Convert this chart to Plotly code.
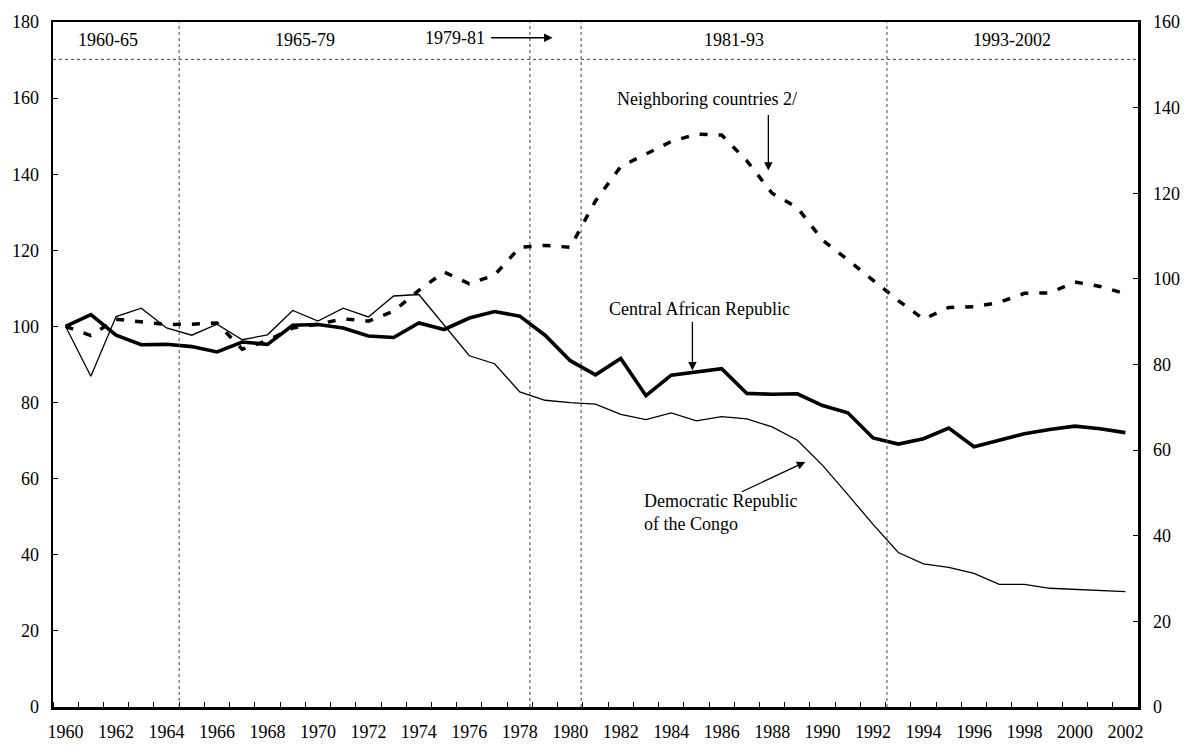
import plotly.graph_objects as go

years = list(range(1960, 2003))

car = [100, 103.1, 97.7, 95.2, 95.3, 94.7, 93.3, 95.9, 95.3, 100.3,
       100.5, 99.6, 97.5, 97.1, 100.9, 99.2, 102.2, 103.9, 102.7, 97.7,
       91.0, 87.3, 91.6, 81.8, 87.2, 88.0, 88.9, 82.4, 82.2, 82.3,
       79.2, 77.3, 70.7, 69.1, 70.5, 73.3, 68.4, 70.1, 71.8, 72.9,
       73.8, 73.1, 72.1]

drc = [100, 86.9, 102.6, 104.8, 99.6, 97.7, 100.6, 96.5, 97.8, 104.2,
       101.4, 104.8, 102.5, 108.0, 108.4, 100.3, 92.3, 90.2, 82.8, 80.6,
       80.0, 79.6, 76.9, 75.5, 77.3, 75.2, 76.3, 75.7, 73.6, 70.1,
       63.5, 55.8, 48.0, 40.6, 37.6, 36.7, 35.1, 32.2, 32.2, 31.2,
       30.9, 30.6, 30.3]

neighbors = [100, 97.6, 101.9, 101.2, 100.5, 100.6, 100.9, 94.0, 96.3, 99.6,
             100.6, 102.0, 101.4, 104.0, 109.5, 114.3, 111.2, 113.5, 120.8, 121.3,
             120.8, 133.0, 142.0, 145.3, 148.6, 150.5, 150.3, 143.5, 135.0, 131.2,
             122.7, 117.5, 112.2, 106.8, 101.9, 105.0, 105.2, 106.3, 108.7, 108.8,
             111.7, 110.5, 108.6]

period_labels = ["1960-65", "1965-79", "1979-81", "1981-93", "1993-2002"]
period_breaks = [1964.5, 1978.4, 1980.43, 1992.55]
xtick_years = list(range(1960, 2003, 2))
left_ticks = list(range(0, 181, 20))
right_ticks = list(range(0, 161, 20))

W, H = 1194, 754
L, R, T, B = 52, 1138, 15, 711      # plot area in pixels
X0, X1 = 1959.5, 2002.5
YMAX = 180


def xd(px):
    return X0 + (px - L) / (R - L) * (X1 - X0)


def yd(py):
    return (B - py) / (B - T) * YMAX


FONT = "Liberation Serif"
FS = 18

fig = go.Figure()
fig.add_trace(go.Scatter(x=years, y=neighbors, mode="lines",
                         line=dict(color="black", width=3.5, dash="8px,11px"),
                         name="Neighboring countries 2/"))
fig.add_trace(go.Scatter(x=years, y=drc, mode="lines",
                         line=dict(color="black", width=1.3),
                         name="Democratic Republic of the Congo"))
fig.add_trace(go.Scatter(x=years, y=car, mode="lines",
                         line=dict(color="black", width=3.6),
                         name="Central African Republic"))

shapes = []
for b in period_breaks:
    shapes.append(dict(type="line", xref="x", yref="y", x0=b, x1=b, y0=0, y1=YMAX,
                       line=dict(color="#444444", width=1, dash="dot")))
shapes.append(dict(type="line", xref="paper", yref="y", x0=0, x1=1, y0=yd(53), y1=yd(53),
                   line=dict(color="#444444", width=1, dash="dot")))

annotations = []


def txt(text, px, py, xanchor="center", align="center"):
    annotations.append(dict(text=text, x=xd(px), y=yd(py), xref="x", yref="y",
                            showarrow=False, xanchor=xanchor, yanchor="middle",
                            align=align, font=dict(family=FONT, size=FS, color="black")))


def arrow(x_from, y_from, x_to, y_to):
    annotations.append(dict(text="", x=xd(x_to), y=yd(y_to), ax=xd(x_from), ay=yd(y_from),
                            xref="x", yref="y", axref="x", ayref="y", showarrow=True,
                            arrowhead=2, arrowsize=1.3, arrowwidth=1.3, arrowcolor="black",
                            standoff=0, startstandoff=0))


txt(period_labels[0], 107, 33)
txt(period_labels[1], 304, 33)
txt(period_labels[2], 486, 31, xanchor="right")
arrow(489, 31, 552, 31)
txt(period_labels[3], 734, 33)
txt(period_labels[4], 1012, 33)

txt("Neighboring countries 2/", 707, 93)
arrow(768, 108, 768, 166)
txt("Central African Republic", 699, 307)
arrow(692, 318, 692, 369)
txt("Democratic Republic<br>of the Congo", 642, 513, xanchor="left", align="left")
arrow(740, 493, 805, 462)

fig.update_layout(
    width=W, height=H,
    margin=dict(l=L, r=W - R, t=T, b=H - B, pad=0),
    paper_bgcolor="white", plot_bgcolor="white",
    showlegend=False,
    font=dict(family=FONT, size=FS, color="black"),
    shapes=shapes, annotations=annotations,
    xaxis=dict(range=[X0, X1], tickmode="array", tickvals=xtick_years,
               ticktext=[str(y) for y in xtick_years], ticks="",
               ticklabelstandoff=7,
               minor=dict(tickmode="linear", tick0=1959.5, dtick=1, ticks="inside",
                          ticklen=5, tickcolor="black", tickwidth=1),
               showline=True, linecolor="black", linewidth=2.5, mirror=True,
               showgrid=False, zeroline=False),
    yaxis=dict(range=[0, YMAX], tickmode="array", tickvals=left_ticks,
               ticks="inside", ticklen=5, tickcolor="black",
               ticklabelstandoff=8,
               showline=True, linecolor="black", linewidth=2.5,
               showgrid=False, zeroline=False),
    yaxis2=dict(range=[0, 160], tickmode="array", tickvals=right_ticks,
                overlaying="y", side="right",
                ticks="inside", ticklen=5, tickcolor="black",
                ticklabelstandoff=9,
                showline=True, linecolor="black", linewidth=2.5,
                showgrid=False, zeroline=False),
)

fig.add_trace(go.Scatter(x=[None], y=[None], yaxis="y2", showlegend=False,
                         hoverinfo="skip"))

fig.write_html("out.html",
               config={"displayModeBar": False, "staticPlot": True},
               post_script="document.body.style.margin='0';document.body.style.overflow='hidden';")
